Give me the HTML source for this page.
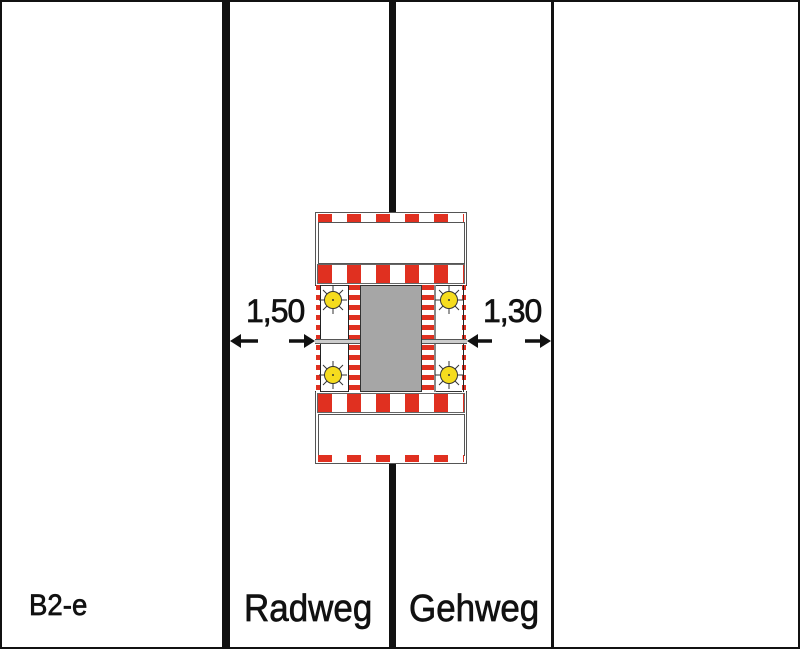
<!DOCTYPE html>
<html><head><style>
body{margin:0;width:800px;height:649px;overflow:hidden;background:#fff;font-family:"Liberation Sans",sans-serif}
.a{position:absolute}
.hs{background:repeating-linear-gradient(90deg,#e03020 0,#e03020 14px,#fff 14px,#fff 29px)}
.vs{background:repeating-linear-gradient(180deg,#e03020 0,#e03020 5px,#fff 5px,#fff 10px)}
.t{color:#111;position:absolute;white-space:nowrap;transform-origin:0 0;-webkit-text-stroke:0.7px #111}
</style></head><body>
<div class="a" style="left:0;top:0;width:796px;height:645px;border:2px solid #111"></div>
<div class="a" style="left:222px;top:0;width:8px;height:649px;background:#111"></div>
<div class="a" style="left:389px;top:0;width:7px;height:649px;background:#111"></div>
<div class="a" style="left:551px;top:0;width:3px;height:649px;background:#111"></div>

<div class="a" style="left:315px;top:212px;width:150px;height:250px;border:1px solid #555;background:#fff"></div>
<div class="a hs" style="left:318px;top:214px;width:146px;height:8px;border-bottom:1px solid #333"></div>
<div class="a" style="left:318px;top:222px;width:145px;height:40px;border:1px solid #555"></div>
<div class="a hs" style="left:317px;top:264px;width:148px;height:20px;border:1px solid #666;box-sizing:border-box"></div>
<div class="a" style="left:315px;top:285px;width:152px;height:107px;background:#fff;border-top:1px solid #333;border-bottom:1px solid #333;box-sizing:border-box"></div>
<div class="a vs" style="left:316px;top:285px;width:4px;height:107px"></div>
<div class="a vs" style="left:348px;top:285px;width:12px;height:107px"></div>
<div class="a" style="left:320px;top:285px;width:27px;height:107px;border-left:1px solid #222;border-right:1px solid #222"></div>
<div class="a" style="left:360px;top:285px;width:62px;height:107px;background:#a6a6a6;border:1px solid #333;box-sizing:border-box"></div>
<div class="a vs" style="left:422px;top:285px;width:12px;height:107px"></div>
<div class="a vs" style="left:462px;top:285px;width:4px;height:107px"></div>
<div class="a" style="left:434px;top:285px;width:27px;height:107px;border-left:2px solid #888;border-right:1px solid #222"></div>
<div class="a" style="left:315px;top:339px;width:45px;height:3px;background:#ccc;border-top:1px solid #555;border-bottom:1px solid #555"></div>
<div class="a" style="left:422px;top:339px;width:45px;height:3px;background:#ccc;border-top:1px solid #555;border-bottom:1px solid #555"></div>
<div class="a hs" style="left:317px;top:393px;width:148px;height:20px;border:1px solid #666;box-sizing:border-box"></div>
<div class="a" style="left:318px;top:414px;width:145px;height:40px;border:1px solid #555"></div>
<div class="a hs" style="left:318px;top:455px;width:146px;height:7px"></div>

<svg class="a" style="left:0;top:0" width="800" height="649">
<g stroke="#333" stroke-width="1">
<g id="l"><line x1="333" y1="286" x2="333" y2="314"/><line x1="319" y1="300" x2="347" y2="300"/><line x1="323" y1="290" x2="343" y2="310"/><line x1="343" y1="290" x2="323" y2="310"/></g>
<use href="#l" y="75"/><use href="#l" x="116"/><use href="#l" x="116" y="75"/>
</g>
<g fill="#f5dc1e" stroke="#333" stroke-width="1">
<circle cx="333" cy="300" r="8.5"/><circle cx="333" cy="375" r="8.5"/><circle cx="449" cy="300" r="8.5"/><circle cx="449" cy="375" r="8.5"/>
</g>
<g fill="#333"><circle cx="333" cy="300" r="1"/><circle cx="333" cy="375" r="1"/><circle cx="449" cy="300" r="1"/><circle cx="449" cy="375" r="1"/></g>
<g stroke="#111" stroke-width="3.5" fill="#111">
<line x1="238" y1="341" x2="258" y2="341"/><polygon points="230,341 241,334 241,348" stroke="none"/>
<line x1="289" y1="341" x2="307" y2="341"/><polygon points="315,341 304,334 304,348" stroke="none"/>
<line x1="475" y1="341" x2="492" y2="341"/><polygon points="467,341 478,334 478,348" stroke="none"/>
<line x1="525" y1="341" x2="543" y2="341"/><polygon points="551,341 540,334 540,348" stroke="none"/>
</g>
</svg>

<div class="t" style="left:246px;top:293px;font-size:32px;letter-spacing:-1px">1,50</div>
<div class="t" style="left:483px;top:293px;font-size:32px;letter-spacing:-1px">1,30</div>
<div class="t" style="left:29px;top:589px;font-size:30px;transform:scaleX(0.92)">B2-e</div>
<div class="t" style="left:244px;top:588px;font-size:38px;transform:scaleX(0.92)">Radweg</div>
<div class="t" style="left:409px;top:588px;font-size:38px;transform:scaleX(0.92)">Gehweg</div>
</body></html>
